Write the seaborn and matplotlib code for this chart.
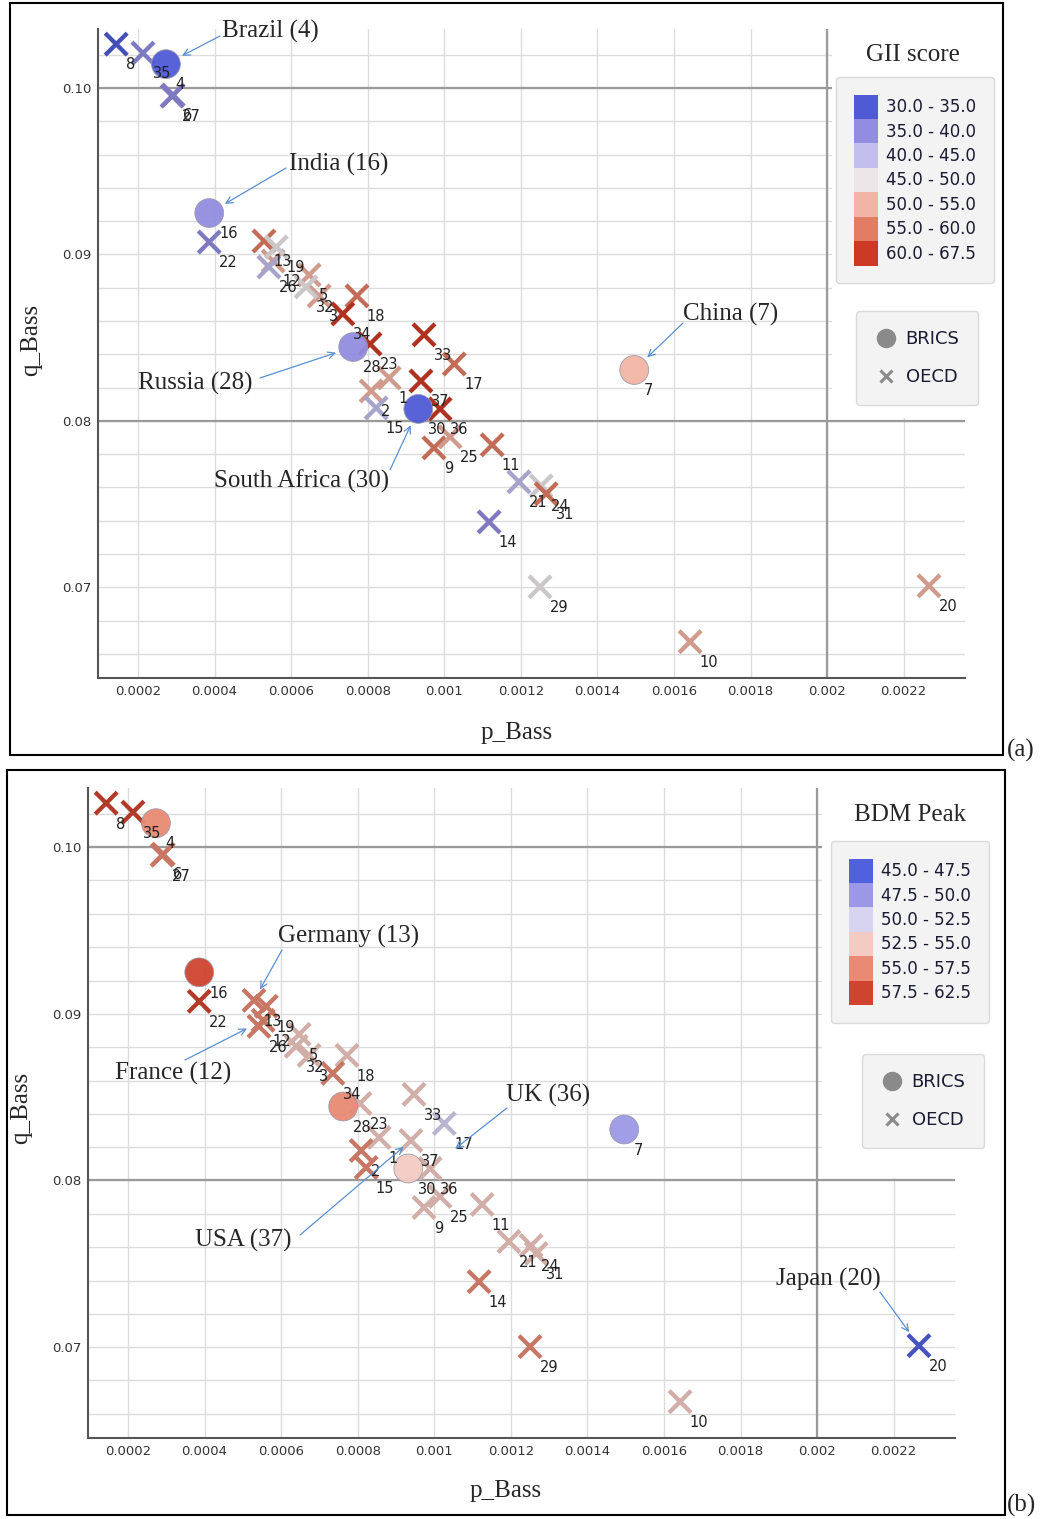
import pandas as pd
import seaborn as sns
from matplotlib import pyplot as plt
from matplotlib.patches import Patch, Rectangle
from matplotlib.lines import Line2D
from matplotlib.ticker import MultipleLocator

sns.set_theme(style='white')
plt.rcParams['font.family'] = ['DejaVu Sans']
SERIF = ['Liberation Serif', 'DejaVu Serif']

# country data (id = rank label shown next to each point)
country_id = list(range(1, 38))
p_bass = [0.000856, 0.000809, 0.000673, 0.000273, 0.000647, 0.000292, 0.001496, 0.000143, 0.000973, 0.001642,
          0.001125, 0.000553, 0.000529, 0.001117, 0.000822, 0.000386, 0.001026, 0.000772, 0.000561, 0.002266,
          0.001195, 0.000386, 0.000806, 0.001253, 0.001015, 0.000542, 0.000289, 0.000762, 0.001250, 0.000932,
          0.001266, 0.000639, 0.000947, 0.000735, 0.000213, 0.000989, 0.000939]
q_bass = [0.08258, 0.08180, 0.08751, 0.10144, 0.08877, 0.09958, 0.08306, 0.10264, 0.07838, 0.06673,
          0.07856, 0.08961, 0.09081, 0.07393, 0.08078, 0.09249, 0.08342, 0.08751, 0.09045, 0.07009,
          0.07634, 0.09075, 0.08462, 0.07610, 0.07904, 0.08925, 0.09952, 0.08444, 0.07003, 0.08072,
          0.07562, 0.08805, 0.08517, 0.08643, 0.10210, 0.08072, 0.08240]
brics_ids = [4, 7, 16, 28, 30]

gii_labels = ['30.0 - 35.0', '35.0 - 40.0', '40.0 - 45.0', '45.0 - 50.0', '50.0 - 55.0', '55.0 - 60.0', '60.0 - 67.5']
gii_colors = ['#4f5bd5', '#928de0', '#c2bfec', '#ece6e8', '#f2b4a4', '#e27c65', '#cc3a26']
gii_class = [4, 4, 4, 0, 4, 1, 4, 0, 5, 4, 5, 4, 5, 1, 2, 1, 5, 5, 3, 4,
             2, 1, 6, 3, 4, 2, 1, 1, 3, 0, 5, 3, 6, 6, 1, 6, 6]

bdm_labels = ['45.0 - 47.5', '47.5 - 50.0', '50.0 - 52.5', '52.5 - 55.0', '55.0 - 57.5', '57.5 - 62.5']
bdm_colors = ['#5160dc', '#9c98e6', '#d6d4f0', '#f3cbc3', '#e88a74', '#cf4430']
bdm_class = [3, 4, 3, 4, 3, 4, 1, 5, 3, 3, 3, 4, 4, 4, 4, 5, 2, 3, 4, 0,
             3, 5, 3, 3, 3, 4, 4, 4, 4, 3, 3, 3, 3, 4, 5, 3, 3]

x_ticks = [0.0002, 0.0004, 0.0006, 0.0008, 0.001, 0.0012, 0.0014, 0.0016, 0.0018, 0.002, 0.0022]
x_ticklabels = ['0.0002', '0.0004', '0.0006', '0.0008', '0.001', '0.0012', '0.0014', '0.0016', '0.0018', '0.002', '0.0022']
y_ticks = [0.07, 0.08, 0.09, 0.10]
y_ticklabels = ['0.07', '0.08', '0.09', '0.10']

# annotated countries: (name, id, text left/center px, arrow start px, shrink)
notes_a = [('Brazil (4)', 4, (222, 31), (220, 36), 13),
           ('India (16)', 16, (289, 164), (286, 168), 13),
           ('Russia (28)', 28, (138, 383), (260, 378), 13),
           ('South Africa (30)', 30, (214, 481), (390, 470), 13),
           ('China (7)', 7, (683, 314), (683, 323), 13)]
notes_b = [('Germany (13)', 13, (278, 936), (282, 950), 9),
           ('France (12)', 12, (115, 1073), (185, 1060), 13),
           ('UK (36)', 36, (506, 1095), (507, 1108), 23),
           ('USA (37)', 37, (195, 1240), (300, 1235), 7),
           ('Japan (20)', 20, (776, 1279), (880, 1292), 12)]

df = pd.DataFrame({'id': country_id, 'p': p_bass, 'q': q_bass,
                   'gii': [gii_labels[i] for i in gii_class],
                   'bdm': [bdm_labels[i] for i in bdm_class]})
df['group'] = ['BRICS' if i in brics_ids else 'OECD' for i in df['id']]

W, H = 1043, 1519
fig = plt.figure(figsize=(W / 100, H / 100), dpi=100)


def darken(c, f=0.86):
    c = c.lstrip('#')
    rgb = [int(c[i:i + 2], 16) / 255 for i in (0, 2, 4)]
    return tuple(v * f for v in rgb)


def fpx(x, y):
    return (x, H - y)


def panel(rect, hue, labels, colors, title, notes, tag, frame, ylab_pos, xlab_pos, leg_pos, leg2_pos, title_pos):
    ax = fig.add_axes(rect)
    pal = dict(zip(labels, colors))
    pal_x = {k: darken(v) for k, v in pal.items()}
    oecd = df[df['group'] == 'OECD']
    brics = df[df['group'] == 'BRICS']
    sns.scatterplot(data=oecd, x='p', y='q', hue=hue, hue_order=labels, palette=pal_x, marker='x',
                    s=250, linewidth=3.1, legend=False, ax=ax, zorder=3)
    sns.scatterplot(data=brics, x='p', y='q', hue=hue, hue_order=labels, palette=pal, marker='o',
                    s=430, edgecolor='#9999aa', linewidth=0.6, alpha=0.95, legend=False, ax=ax, zorder=4)
    for _, r in df.iterrows():
        ax.annotate(str(r['id']), (r['p'], r['q']), xytext=(7, -15), textcoords='offset points',
                    ha='left', va='center', fontsize=10.5, color='#222222', zorder=6)

    ax.set_xlim(0.0000955, 0.00236)
    ax.set_ylim(0.06455, 0.10355)
    ax.set_xticks(x_ticks)
    ax.set_xticklabels(x_ticklabels)
    ax.set_yticks(y_ticks)
    ax.set_yticklabels(y_ticklabels)
    ax.yaxis.set_minor_locator(MultipleLocator(0.002))
    ax.tick_params(axis='both', which='both', length=0, labelsize=9.5, labelcolor='#333333', pad=5)
    ax.grid(True, which='both', color='#dcdcdc', linewidth=1.0)
    ax.set_axisbelow(True)
    for v in [0.08, 0.10]:
        ax.axhline(v, color='#9a9a9a', linewidth=1.6, zorder=1)
    ax.axvline(0.002, color='#9a9a9a', linewidth=1.6, zorder=1)
    ax.add_patch(Rectangle((0.8466, 0.40), 0.16, 0.61, transform=ax.transAxes,
                           facecolor='white', edgecolor='none', zorder=1.5, clip_on=False))
    for s in ['top', 'right']:
        ax.spines[s].set_visible(False)
    for s in ['left', 'bottom']:
        ax.spines[s].set_color('#555555')
        ax.spines[s].set_linewidth(1.5)

    ax.set_xlabel('p_Bass', family=SERIF, fontsize=18)
    ax.set_ylabel('q_Bass', family=SERIF, fontsize=18)
    ax.xaxis.set_label_coords(*xlab_pos)
    ax.yaxis.set_label_coords(*ylab_pos)

    # colour class legend
    handles = [Patch(facecolor=c, edgecolor='none', label=l) for l, c in zip(labels, colors)]
    leg = ax.legend(handles=handles, loc='upper left', bbox_to_anchor=leg_pos, bbox_transform=fig.transFigure,
                    frameon=True, fancybox=True, facecolor='#f3f3f3', edgecolor='#dadada', framealpha=1,
                    fontsize=12, handlelength=1.45, handleheight=1.88, labelspacing=0.0, handletextpad=0.5,
                    borderpad=1.05, borderaxespad=0)
    for t in leg.get_texts():
        t.set_color('#1a1a33')
    ax.add_artist(leg)
    fig.text(*title_pos, title, family=SERIF, fontsize=18, ha='center', va='center')

    handles2 = [Line2D([], [], marker='o', ls='', color='#8a8a8a', markersize=13, label='BRICS'),
                Line2D([], [], marker='x', ls='', color='#8a8a8a', markersize=9, mew=2.2, label='OECD')]
    leg2 = ax.legend(handles=handles2, loc='upper left', bbox_to_anchor=leg2_pos, bbox_transform=fig.transFigure,
                     frameon=True, fancybox=True, facecolor='#f3f3f3', edgecolor='#dadada', framealpha=1,
                     fontsize=13, handlelength=1.2, labelspacing=1.1, handletextpad=0.5, borderpad=1.05,
                     borderaxespad=0)
    for t in leg2.get_texts():
        t.set_color('#1a1a33')

    lookup = df.set_index('id')
    for name, cid, tpos, apos, shrink in notes:
        fig.text(tpos[0] / W, 1 - tpos[1] / H, name, family=SERIF, fontsize=18, ha='left', va='center')
        ax.annotate('', xy=(lookup.loc[cid, 'p'], lookup.loc[cid, 'q']), xycoords='data',
                    xytext=fpx(*apos), textcoords='figure pixels',
                    arrowprops=dict(arrowstyle='->', color='#5b8fd0', lw=0.9, shrinkA=0, shrinkB=shrink),
                    zorder=7)

    fig.add_artist(Rectangle((frame[0] / W, 1 - frame[3] / H), (frame[2] - frame[0]) / W,
                             (frame[3] - frame[1]) / H, transform=fig.transFigure, fill=False,
                             edgecolor='black', linewidth=1.5))
    fig.text(1007 / W, 1 - tag[1] / H, tag[0], family=SERIF, fontsize=18, ha='left', va='center')
    return ax


panel([98 / W, 1 - 678 / H, 867 / W, 649 / H], 'gii', gii_labels, gii_colors, 'GII score', notes_a,
      ('(a)', 750), (10, 3, 1003, 755), (-0.0646, 0.521), (0.483, -0.068),
      (836 / W, 1 - 77 / H), (856 / W, 1 - 311 / H), (913 / W, 1 - 55 / H))
panel([88 / W, 1 - 1438 / H, 867 / W, 650 / H], 'bdm', bdm_labels, bdm_colors, 'BDM Peak', notes_b,
      ('(b)', 1505), (7, 770, 1005, 1515), (-0.0646, 0.508), (0.482, -0.065),
      (831 / W, 1 - 841 / H), (862 / W, 1 - 1054 / H), (910 / W, 1 - 815 / H))

plt.savefig('out.png', dpi=100)
